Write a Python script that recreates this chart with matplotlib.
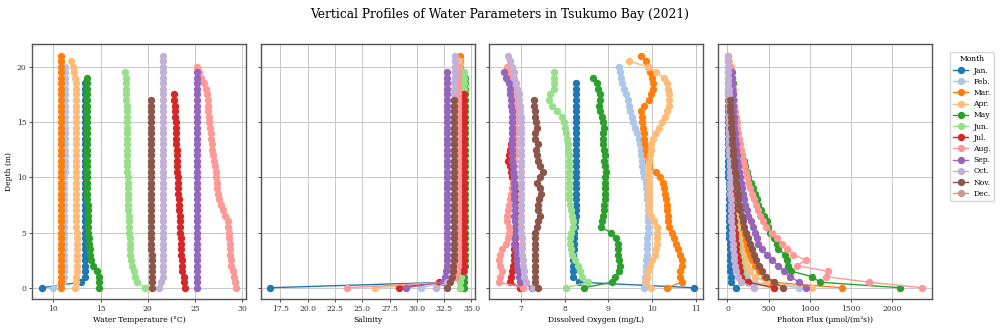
import matplotlib
matplotlib.use("Agg")
import matplotlib.pyplot as plt

plt.rcParams['font.family'] = ['DejaVu Serif']

DEPTHS = [0.0, 0.5, 1.0, 1.5, 2.0, 2.5, 3.0, 3.5, 4.0, 4.5,
          5.0, 5.5, 6.0, 6.5, 7.0, 7.5, 8.0, 8.5, 9.0, 9.5,
          10.0, 10.5, 11.0, 11.5, 12.0, 12.5, 13.0, 13.5, 14.0, 14.5,
          15.0, 15.5, 16.0, 16.5, 17.0, 17.5, 18.0, 18.5, 19.0, 19.5,
          20.0, 20.5, 21.0]

MONTHS = ["Jan.", "Feb.", "Mar.", "Apr.", "May", "Jun.",
          "Jul.", "Aug.", "Sep.", "Oct.", "Nov.", "Dec."]
COLORS = ["#1f77b4", "#aec7e8", "#ff7f0e", "#ffbb78", "#2ca02c", "#98df8a",
          "#d62728", "#ff9896", "#9467bd", "#c5b0d5", "#8c564b", "#c49c94"]

# ---------------- Water temperature (°C), depth 0, 0.5, 1, ... ----------------
temp_jan = [8.77, 12.92, 13.40, 13.40, 13.39, 13.38, 13.38, 13.37, 13.37, 13.36,
            13.36, 13.36, 13.35, 13.35, 13.35, 13.35, 13.35, 13.34, 13.34, 13.34,
            13.34, 13.34, 13.34, 13.34, 13.34, 13.35, 13.35, 13.35, 13.35, 13.35,
            13.35, 13.35, 13.35, 13.35, 13.35, 13.35, 13.35, 13.35]
temp_feb = [10.00, 11.05, 11.10, 11.12, 11.12, 11.13, 11.13, 11.14, 11.14, 11.15,
            11.15, 11.15, 11.16, 11.16, 11.16, 11.17, 11.17, 11.17, 11.18, 11.18,
            11.18, 11.19, 11.19, 11.19, 11.20, 11.20, 11.20, 11.20, 11.21, 11.21,
            11.21, 11.21, 11.22, 11.22, 11.22, 11.22, 11.22, 11.23, 11.23, 11.23,
            11.23]
temp_mar = [10.77, 10.80, 10.80, 10.81, 10.81, 10.81, 10.81, 10.81, 10.82, 10.82,
            10.82, 10.82, 10.82, 10.82, 10.82, 10.82, 10.82, 10.82, 10.82, 10.82,
            10.82, 10.82, 10.82, 10.82, 10.82, 10.82, 10.82, 10.82, 10.82, 10.82,
            10.82, 10.82, 10.82, 10.82, 10.82, 10.82, 10.82, 10.82, 10.81, 10.81,
            10.81, 10.80, 10.80]
temp_apr = [12.25, 12.44, 12.45, 12.46, 12.46, 12.46, 12.46, 12.46, 12.46, 12.46,
            12.46, 12.45, 12.45, 12.45, 12.45, 12.45, 12.44, 12.44, 12.44, 12.44,
            12.44, 12.44, 12.43, 12.43, 12.43, 12.43, 12.42, 12.42, 12.42, 12.42,
            12.41, 12.41, 12.41, 12.40, 12.40, 12.40, 12.40, 12.39, 12.32, 12.18,
            12.04, 11.87]
temp_may = [14.82, 14.82, 14.79, 14.58, 14.15, 14.00, 13.93, 13.87, 13.80, 13.75,
            13.72, 13.69, 13.66, 13.65, 13.63, 13.62, 13.60, 13.60, 13.59, 13.59,
            13.59, 13.59, 13.58, 13.58, 13.58, 13.58, 13.58, 13.58, 13.58, 13.58,
            13.57, 13.57, 13.57, 13.57, 13.57, 13.56, 13.56, 13.55, 13.52]
temp_jun = [19.72, 18.87, 18.62, 18.50, 18.35, 18.20, 18.15, 18.12, 18.10, 18.08,
            18.05, 18.03, 18.00, 17.98, 17.96, 17.94, 17.92, 17.90, 17.88, 17.87,
            17.86, 17.85, 17.85, 17.84, 17.83, 17.82, 17.81, 17.80, 17.79, 17.79,
            17.78, 17.77, 17.76, 17.75, 17.74, 17.72, 17.70, 17.68, 17.66, 17.64]
temp_jul = [23.94, 23.84, 23.80, 23.60, 23.59, 23.58, 23.57, 23.56, 23.54, 23.52,
            23.45, 23.43, 23.41, 23.38, 23.35, 23.32, 23.27, 23.25, 23.23, 23.20,
            23.18, 23.15, 23.13, 23.11, 23.08, 23.06, 23.04, 23.02, 23.00, 22.98,
            22.95, 22.92, 22.90, 22.87, 22.82, 22.75]
temp_aug = [29.37, 29.25, 29.12, 29.00, 28.87, 28.80, 28.75, 28.72, 28.70, 28.65,
            28.60, 28.55, 28.50, 28.20, 28.00, 27.80, 27.60, 27.48, 27.36, 27.30,
            27.25, 27.20, 27.12, 27.05, 26.90, 26.85, 26.78, 26.72, 26.65, 26.58,
            26.50, 26.46, 26.43, 26.40, 26.37, 26.30, 26.20, 25.99, 25.63, 25.42,
            25.21]
temp_sep = [25.26, 25.25, 25.24, 25.24, 25.23, 25.23, 25.23, 25.22, 25.22, 25.22,
            25.22, 25.22, 25.22, 25.22, 25.22, 25.22, 25.22, 25.22, 25.22, 25.22,
            25.22, 25.22, 25.22, 25.22, 25.21, 25.21, 25.21, 25.21, 25.21, 25.21,
            25.21, 25.21, 25.21, 25.21, 25.21, 25.21, 25.20, 25.20, 25.20, 25.20]
temp_oct = [21.23, 21.40, 21.58, 21.60, 21.60, 21.61, 21.61, 21.61, 21.61, 21.61,
            21.61, 21.61, 21.61, 21.61, 21.61, 21.61, 21.61, 21.61, 21.61, 21.61,
            21.61, 21.62, 21.62, 21.62, 21.62, 21.62, 21.62, 21.62, 21.62, 21.62,
            21.62, 21.62, 21.62, 21.62, 21.62, 21.62, 21.62, 21.62, 21.62, 21.62,
            21.62, 21.62, 21.62]
temp_nov = [20.42, 20.42, 20.41, 20.41, 20.40, 20.40, 20.40, 20.39, 20.39, 20.39,
            20.38, 20.38, 20.38, 20.38, 20.38, 20.37, 20.37, 20.37, 20.37, 20.37,
            20.36, 20.36, 20.36, 20.36, 20.36, 20.36, 20.35, 20.35, 20.35, 20.35,
            20.35, 20.34, 20.33, 20.33, 20.32]
temp_dec = []

# ---------------- Salinity ----------------
sal_jan = [16.60, 32.90, 33.55, 33.60, 33.62, 33.63, 33.64, 33.64, 33.65, 33.65,
           33.65, 33.65, 33.65, 33.65, 33.66, 33.66, 33.66, 33.66, 33.66, 33.66,
           33.66, 33.66, 33.66, 33.66, 33.66, 33.66, 33.66, 33.66, 33.66, 33.66,
           33.66, 33.66, 33.66, 33.66, 33.66, 33.66, 33.66, 33.66]
sal_feb = [30.42, 32.70, 33.30, 33.40, 33.42, 33.44, 33.45, 33.45, 33.45, 33.46,
           33.46, 33.46, 33.46, 33.46, 33.46, 33.46, 33.47, 33.47, 33.47, 33.47,
           33.47, 33.47, 33.47, 33.47, 33.47, 33.47, 33.47, 33.47, 33.47, 33.47,
           33.47, 33.47, 33.47, 33.47, 33.47, 33.47, 33.47, 33.47, 33.47, 33.47,
           33.47]
sal_mar = [33.92, 33.95, 33.97, 33.98, 33.99, 34.00, 34.00, 34.00, 34.00, 34.00,
           34.00, 34.00, 34.00, 34.00, 34.00, 34.00, 34.00, 34.00, 34.00, 34.00,
           34.00, 34.00, 34.00, 34.00, 34.00, 34.00, 34.00, 34.00, 34.00, 34.00,
           34.00, 34.00, 34.00, 34.00, 34.00, 34.00, 34.00, 34.00, 33.99, 33.99,
           33.98, 33.98, 33.97]
sal_apr = [26.16, 32.90, 33.70, 33.85, 33.88, 33.90, 33.90, 33.90, 33.90, 33.90,
           33.90, 33.90, 33.90, 33.90, 33.90, 33.90, 33.90, 33.90, 33.90, 33.90,
           33.90, 33.90, 33.90, 33.90, 33.90, 33.90, 33.90, 33.90, 33.90, 33.90,
           33.90, 33.90, 33.90, 33.90, 33.90, 33.90, 33.90, 33.90, 33.89, 33.89,
           33.88, 33.88]
sal_may = [34.31, 34.30, 34.32, 34.35, 34.38, 34.40, 34.40, 34.40, 34.40, 34.40,
           34.40, 34.40, 34.40, 34.40, 34.40, 34.40, 34.40, 34.40, 34.40, 34.40,
           34.40, 34.40, 34.40, 34.40, 34.40, 34.40, 34.40, 34.40, 34.40, 34.40,
           34.40, 34.40, 34.40, 34.40, 34.40, 34.40, 34.40, 34.40, 34.40]
sal_jun = [33.97, 33.95, 34.00, 34.20, 34.30, 34.33, 34.35, 34.35, 34.35, 34.35,
           34.35, 34.35, 34.35, 34.35, 34.35, 34.35, 34.35, 34.35, 34.35, 34.35,
           34.35, 34.35, 34.35, 34.35, 34.35, 34.35, 34.35, 34.35, 34.35, 34.35,
           34.35, 34.35, 34.35, 34.35, 34.35, 34.35, 34.35, 34.36, 34.36, 34.36]
sal_jul = [28.38, 32.03, 33.50, 34.20, 34.28, 34.30, 34.30, 34.30, 34.30, 34.30,
           34.30, 34.30, 34.30, 34.30, 34.30, 34.30, 34.30, 34.30, 34.30, 34.30,
           34.30, 34.30, 34.30, 34.30, 34.30, 34.30, 34.30, 34.30, 34.30, 34.30,
           34.30, 34.30, 34.30, 34.30, 34.30, 34.30]
sal_aug = [23.61, 32.80, 33.50, 33.70, 33.75, 33.78, 33.80, 33.80, 33.80, 33.80,
           33.80, 33.80, 33.80, 33.80, 33.80, 33.80, 33.80, 33.80, 33.80, 33.80,
           33.80, 33.80, 33.80, 33.80, 33.80, 33.80, 33.80, 33.80, 33.80, 33.80,
           33.80, 33.80, 33.80, 33.80, 33.80, 33.80, 33.80, 33.79, 33.79, 33.78,
           33.78]
sal_sep = [28.99, 32.40, 32.60, 32.70, 32.75, 32.78, 32.80, 32.80, 32.80, 32.80,
           32.80, 32.80, 32.80, 32.80, 32.80, 32.80, 32.80, 32.80, 32.80, 32.80,
           32.80, 32.80, 32.80, 32.80, 32.80, 32.80, 32.80, 32.80, 32.80, 32.80,
           32.80, 32.80, 32.80, 32.80, 32.80, 32.80, 32.80, 32.80, 32.80, 32.80]
sal_oct = [31.79, 32.80, 33.20, 33.30, 33.35, 33.38, 33.40, 33.40, 33.40, 33.40,
           33.40, 33.40, 33.40, 33.40, 33.40, 33.40, 33.40, 33.40, 33.40, 33.40,
           33.40, 33.40, 33.40, 33.40, 33.40, 33.40, 33.40, 33.40, 33.40, 33.40,
           33.40, 33.40, 33.40, 33.40, 33.41, 33.42, 33.43, 33.44, 33.45, 33.45,
           33.46, 33.46, 33.46]
sal_nov = [32.72, 33.00, 33.20, 33.30, 33.35, 33.37, 33.37, 33.37, 33.37, 33.37,
           33.37, 33.37, 33.37, 33.37, 33.37, 33.37, 33.37, 33.37, 33.37, 33.37,
           33.37, 33.37, 33.37, 33.37, 33.37, 33.37, 33.37, 33.37, 33.37, 33.37,
           33.37, 33.37, 33.37, 33.37, 33.37]
sal_dec = []

# ---------------- Dissolved oxygen (mg/L) ----------------
do_jan = [10.95, 8.33, 8.20, 8.20, 8.20, 8.20, 8.20, 8.21, 8.21, 8.22,
          8.22, 8.23, 8.24, 8.25, 8.25, 8.26, 8.26, 8.26, 8.26, 8.26,
          8.26, 8.26, 8.26, 8.26, 8.26, 8.26, 8.26, 8.26, 8.26, 8.26,
          8.26, 8.26, 8.26, 8.27, 8.27, 8.27, 8.27, 8.27]
do_feb = [9.81, 9.83, 9.84, 9.85, 9.86, 9.87, 9.88, 9.88, 9.89, 9.89,
          9.90, 9.90, 9.90, 9.90, 9.90, 9.90, 9.89, 9.88, 9.87, 9.86,
          9.81, 9.79, 9.77, 9.77, 9.75, 9.74, 9.72, 9.69, 9.65, 9.60,
          9.56, 9.53, 9.50, 9.47, 9.44, 9.41, 9.36, 9.31, 9.28, 9.27,
          9.25]
do_mar = [10.35, 10.68, 10.63, 10.65, 10.69, 10.68, 10.63, 10.59, 10.54, 10.50,
          10.45, 10.38, 10.37, 10.36, 10.35, 10.34, 10.32, 10.30, 10.28, 10.25,
          10.19, 10.08, 9.93, 9.90, 9.88, 9.86, 9.83, 9.82, 9.81, 9.79,
          9.77, 9.76, 9.75, 9.81, 9.92, 9.97, 10.01, 10.02, 10.00, 9.96,
          9.91, 9.86, 9.75]
do_apr = [9.98, 9.85, 9.88, 9.90, 9.95, 10.00, 10.06, 10.10, 10.12, 10.12,
          10.11, 10.12, 10.05, 9.98, 9.94, 9.93, 9.93, 9.93, 9.92, 9.92,
          9.91, 9.91, 9.91, 9.93, 9.95, 9.97, 9.98, 10.01, 10.08, 10.15,
          10.23, 10.30, 10.35, 10.38, 10.38, 10.38, 10.37, 10.35, 10.28, 10.10,
          9.90, 9.48]
do_may = [8.45, 9.08, 9.15, 9.25, 9.27, 9.25, 9.23, 9.23, 9.22, 9.17,
          9.05, 8.83, 8.85, 8.88, 8.90, 8.91, 8.92, 8.92, 8.92, 8.93,
          8.93, 8.94, 8.92, 8.90, 8.92, 8.91, 8.88, 8.87, 8.88, 8.89,
          8.87, 8.85, 8.81, 8.78, 8.82, 8.81, 8.77, 8.73, 8.65]
do_jun = [8.03, 8.53, 8.40, 8.34, 8.30, 8.23, 8.17, 8.15, 8.13, 8.13,
          8.15, 8.20, 8.20, 8.17, 8.15, 8.13, 8.11, 8.10, 8.10, 8.10,
          8.10, 8.10, 8.10, 8.09, 8.09, 8.08, 8.07, 8.05, 8.03, 8.00,
          7.98, 7.95, 7.83, 7.70, 7.64, 7.66, 7.76, 7.76, 7.76, 7.76]
do_jul = [6.98, 6.76, 6.78, 6.80, 6.82, 6.83, 6.84, 6.85, 6.86, 6.86,
          6.87, 6.87, 6.88, 6.90, 6.91, 6.91, 6.91, 6.90, 6.88, 6.85,
          6.80, 6.78, 6.75, 6.70, 6.72, 6.76, 6.78, 6.80, 6.82, 6.83,
          6.84, 6.85, 6.86, 6.85, 6.85, 6.84]
do_aug = [7.05, 6.50, 6.51, 6.57, 6.53, 6.50, 6.52, 6.57, 6.65, 6.70,
          6.72, 6.72, 6.68, 6.68, 6.70, 6.72, 6.76, 6.78, 6.80, 6.82,
          6.83, 6.84, 6.85, 6.85, 6.86, 6.86, 6.86, 6.87, 6.87, 6.87,
          6.87, 6.87, 6.86, 6.86, 6.85, 6.85, 6.84, 6.82, 6.78, 6.72,
          6.67]
do_sep = [7.25, 6.98, 6.95, 6.93, 6.92, 6.90, 6.90, 6.88, 6.85, 6.87,
          6.89, 6.88, 6.86, 6.85, 6.86, 6.86, 6.85, 6.84, 6.85, 6.85,
          6.83, 6.82, 6.81, 6.80, 6.79, 6.80, 6.79, 6.79, 6.80, 6.79,
          6.79, 6.79, 6.79, 6.78, 6.78, 6.76, 6.74, 6.72, 6.66, 6.62]
do_oct = [7.27, 7.12, 7.08, 7.07, 7.05, 7.04, 7.03, 7.03, 7.02, 7.02,
          7.01, 7.01, 7.01, 7.01, 7.01, 7.01, 7.01, 7.01, 7.01, 7.01,
          7.01, 7.01, 7.00, 7.00, 7.00, 7.00, 7.00, 7.00, 7.00, 7.00,
          6.99, 6.99, 6.98, 6.97, 6.96, 6.95, 6.90, 6.88, 6.85, 6.83,
          6.80, 6.76, 6.70]
do_nov = [7.38, 7.32, 7.31, 7.31, 7.31, 7.31, 7.31, 7.31, 7.31, 7.32,
          7.33, 7.36, 7.40, 7.43, 7.40, 7.38, 7.42, 7.46, 7.43, 7.36,
          7.44, 7.50, 7.44, 7.40, 7.37, 7.35, 7.38, 7.33, 7.32, 7.36,
          7.34, 7.32, 7.31, 7.30, 7.29]
do_dec = []

# ---------------- Photon flux (µmol/(m²s)) ----------------
pf_jan = [101, 48, 40, 36, 33, 31, 29, 27, 25, 24,
          22, 21, 20, 19, 18, 17, 16, 15, 14, 13,
          12, 11.5, 11, 10, 9.5, 9, 8.5, 8, 7.5, 7,
          6.5, 6, 5.5, 5, 5, 4.5, 4, 4]
pf_feb = [873, 320, 240, 200, 175, 155, 140, 125, 112, 100,
          90, 82, 75, 68, 62, 57, 52, 48, 44, 40,
          37, 34, 31, 29, 27, 25, 23, 21, 19.5, 18,
          17, 16, 15, 14, 13, 12, 11, 10, 9.5, 9,
          8.5]
pf_mar = [1394, 530, 440, 380, 340, 300, 260, 235, 210, 190,
          172, 155, 140, 128, 117, 106, 97, 88, 80, 73,
          67, 61, 56, 51, 47, 43, 39, 36, 33, 30,
          28, 26, 24, 22, 20, 18.5, 17, 16, 15, 14,
          13, 12, 11]
pf_apr = [1030, 470, 330, 270, 240, 215, 190, 170, 155, 140,
          128, 117, 107, 98, 90, 83, 76, 70, 64, 59,
          54, 50, 46, 42, 39, 36, 33, 31, 29, 27,
          25, 23, 21.5, 20, 19, 18, 17, 16, 15, 15,
          30, 22]
pf_may = [2101, 1123, 1030, 772, 740, 720, 699, 618, 598, 560,
          517, 495, 477, 440, 405, 376, 355, 330, 308, 287,
          255, 235, 214, 195, 174, 158, 141, 128, 117, 108,
          100, 93, 85, 79, 73, 70, 67, 62, 55]
pf_jun = [560, 250, 200, 175, 160, 148, 138, 130, 122, 115,
          108, 101, 95, 89, 84, 79, 74, 70, 66, 62,
          58, 55, 52, 49, 46, 43, 41, 39, 37, 35,
          33, 31, 29, 28, 26, 25, 24, 23, 22, 21]
pf_jul = [566, 250, 170, 150, 135, 125, 115, 107, 100, 93,
          87, 81, 76, 71, 66, 62, 58, 54, 51, 48,
          45, 42, 39, 37, 35, 33, 31, 29, 27, 26,
          24, 23, 22, 21, 20, 19]
pf_aug = [2367, 1717, 1200, 1216, 840, 950, 800, 727, 667, 600,
          537, 470, 430, 395, 370, 345, 320, 295, 275, 255,
          240, 220, 205, 190, 178, 165, 152, 140, 130, 120,
          110, 100, 92, 85, 78, 72, 65, 58, 52, 48,
          45]
pf_sep = [953, 870, 760, 690, 618, 540, 477, 420, 376, 355,
          335, 305, 280, 255, 234, 217, 200, 186, 172, 160,
          148, 138, 128, 120, 112, 105, 98, 92, 87, 82,
          78, 74, 70, 67, 64, 62, 60, 58, 56, 55]
pf_oct = [323, 170, 125, 100, 88, 80, 74, 68, 63, 59,
          55, 51, 48, 45, 42, 40, 37, 35, 33, 31,
          29, 28, 26, 25, 23, 22, 21, 20, 19, 18,
          17, 16, 15, 14.5, 14, 13.5, 13, 12.5, 12, 11.5,
          11, 10.5, 10]
pf_nov = [679, 560, 470, 420, 380, 350, 325, 300, 275, 250,
          225, 205, 188, 172, 158, 145, 133, 124, 115, 107,
          99, 92, 85, 78, 72, 66, 60, 55, 50, 45,
          41, 37, 33, 30, 27]
pf_dec = []

TEMP = [temp_jan, temp_feb, temp_mar, temp_apr, temp_may, temp_jun,
        temp_jul, temp_aug, temp_sep, temp_oct, temp_nov, temp_dec]
SAL = [sal_jan, sal_feb, sal_mar, sal_apr, sal_may, sal_jun,
       sal_jul, sal_aug, sal_sep, sal_oct, sal_nov, sal_dec]
DO = [do_jan, do_feb, do_mar, do_apr, do_may, do_jun,
      do_jul, do_aug, do_sep, do_oct, do_nov, do_dec]
PF = [pf_jan, pf_feb, pf_mar, pf_apr, pf_may, pf_jun,
      pf_jul, pf_aug, pf_sep, pf_oct, pf_nov, pf_dec]

XLABELS = ["Water Temperature (°C)", "Salinity", "Dissolved Oxygen (mg/L)",
           "Photon Flux (µmol/(m²s))"]

FS = 5.5

fig, axes = plt.subplots(1, 4, figsize=(10, 3.3), dpi=100, sharey=True)
fig.subplots_adjust(left=0.032, right=0.932, bottom=0.093, top=0.866, wspace=0.069)

for ax, data, xl in zip(axes, [TEMP, SAL, DO, PF], XLABELS):
    for vals, name, col in zip(data, MONTHS, COLORS):
        ax.plot(vals, DEPTHS[:len(vals)], marker='o', markersize=4.3,
                linewidth=1.0, color=col, label=name)
    ax.set_xlabel(xl, fontsize=FS, labelpad=2)
    ax.grid(True, color='#c8c8c8', linewidth=0.7)
    ax.set_axisbelow(True)
    ax.tick_params(labelsize=FS, length=2.2, width=0.6, pad=1.8, colors='#333333')
    for s in ax.spines.values():
        s.set_color('#555555')
        s.set_linewidth(1.0)

axes[0].set_ylabel("Depth (m)", fontsize=FS, labelpad=2.5)
axes[0].set_yticks([0, 5, 10, 15, 20])

handles, labels = axes[3].get_legend_handles_labels()
leg = fig.legend(handles, labels, title="Month", loc='upper left',
                 bbox_to_anchor=(0.946, 0.853), fontsize=FS, title_fontsize=FS,
                 frameon=True, handlelength=2.0, labelspacing=0.42,
                 borderpad=0.4, handletextpad=0.7)
leg.get_frame().set_edgecolor('#cccccc')

fig.suptitle("Vertical Profiles of Water Parameters in Tsukumo Bay (2021)",
             fontsize=8.8, y=0.975)

fig.savefig("out.png", dpi=100)
